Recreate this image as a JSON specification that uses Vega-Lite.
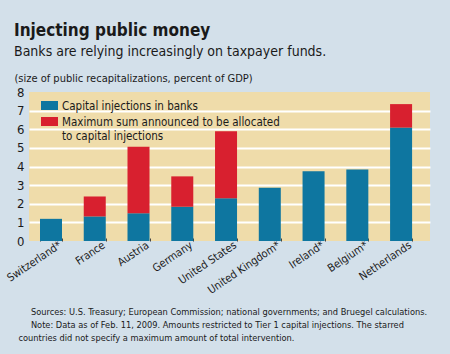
{
  "$schema": "https://vega.github.io/schema/vega-lite/v6.json",
  "width": 401,
  "height": 149,
  "autosize": {"type": "none"},
  "padding": {"left": 29, "top": 92, "right": 20, "bottom": 113},
  "background": "#d3e0ea",
  "title": {
    "text": "Injecting public money",
    "subtitle": "Banks are relying increasingly on taxpayer funds.",
    "anchor": "start",
    "frame": "group",
    "dx": -15,
    "dy": 2,
    "offset": 14,
    "font": "DejaVu Sans Condensed",
    "fontSize": 17,
    "fontWeight": "bold",
    "color": "#1a1a1a",
    "subtitleFont": "DejaVu Sans Condensed",
    "subtitleFontSize": 14,
    "subtitleColor": "#1a1a1a",
    "subtitlePadding": 5
  },
  "data": {
    "values": [
      {"country": "Switzerland*", "series": "Capital injections in banks", "value": 1.19, "order": 1},
      {"country": "France", "series": "Capital injections in banks", "value": 1.32, "order": 1},
      {"country": "France", "series": "Maximum sum announced to be allocated to capital injections", "value": 1.07, "order": 2},
      {"country": "Austria", "series": "Capital injections in banks", "value": 1.49, "order": 1},
      {"country": "Austria", "series": "Maximum sum announced to be allocated to capital injections", "value": 3.57, "order": 2},
      {"country": "Germany", "series": "Capital injections in banks", "value": 1.84, "order": 1},
      {"country": "Germany", "series": "Maximum sum announced to be allocated to capital injections", "value": 1.63, "order": 2},
      {"country": "United States", "series": "Capital injections in banks", "value": 2.30, "order": 1},
      {"country": "United States", "series": "Maximum sum announced to be allocated to capital injections", "value": 3.59, "order": 2},
      {"country": "United Kingdom*", "series": "Capital injections in banks", "value": 2.86, "order": 1},
      {"country": "Ireland*", "series": "Capital injections in banks", "value": 3.75, "order": 1},
      {"country": "Belgium*", "series": "Capital injections in banks", "value": 3.84, "order": 1},
      {"country": "Netherlands", "series": "Capital injections in banks", "value": 6.09, "order": 1},
      {"country": "Netherlands", "series": "Maximum sum announced to be allocated to capital injections", "value": 1.26, "order": 2}
    ]
  },
  "mark": {"type": "bar"},
  "encoding": {
    "x": {
      "field": "country",
      "type": "nominal",
      "sort": null,
      "scale": {"paddingInner": 0.497, "paddingOuter": 0.33, "align": 0.38},
      "axis": {
        "title": [
          "\u200b\u2002\u2002\u2002Sources: U.S. Treasury; European Commission; national governments; and Bruegel calculations.",
          "\u200b\u2002\u2002\u2002Note: Data as of Feb. 11, 2009. Amounts restricted to Tier 1 capital injections. The starred",
          "countries did not specify a maximum amount of total intervention."
        ],
        "titleX": -11,
        "titleY": 73,
        "titleAlign": "left",
        "titleAnchor": null,
        "titleBaseline": "alphabetic",
        "titleFont": "DejaVu Sans Condensed",
        "titleFontSize": 9.2,
        "titleLineHeight": 13,
        "titleFontWeight": "normal",
        "titleColor": "#1a1a1a",
        "labelAngle": -34,
        "labelAlign": "right",
        "labelBaseline": "middle",
        "labelFont": "DejaVu Sans Condensed",
        "labelFontSize": 11,
        "labelColor": "#1a1a1a",
        "labelOffset": 9,
        "labelPadding": 6,
        "domain": false,
        "grid": false,
        "tickBand": "extent",
        "tickSize": -3,
        "tickColor": "#444444",
        "tickWidth": 1
      }
    },
    "y": {
      "field": "value",
      "type": "quantitative",
      "stack": "zero",
      "scale": {"domain": [0, 8]},
      "axis": {
        "values": [0, 1, 2, 3, 4, 5, 6, 7, 8],
        "grid": true,
        "gridColor": "#ffffff",
        "gridWidth": 2,
        "gridOpacity": {"condition": {"test": "datum.value === 0 || datum.value === 8", "value": 0}, "value": 1},
        "domain": false,
        "ticks": false,
        "labelFont": "DejaVu Sans Condensed",
        "labelFontSize": 13,
        "labelColor": "#1a1a1a",
        "labelPadding": 5,
        "title": "(size of public recapitalizations, percent of GDP)",
        "titleAngle": 0,
        "titleAlign": "left",
        "titleAnchor": null,
        "titleBaseline": "alphabetic",
        "titleX": -15,
        "titleY": -11,
        "titleFont": "DejaVu Sans Condensed",
        "titleFontSize": 11,
        "titleFontWeight": "normal",
        "titleColor": "#1a1a1a"
      }
    },
    "color": {
      "field": "series",
      "type": "nominal",
      "scale": {
        "domain": ["Capital injections in banks", "Maximum sum announced to be allocated to capital injections"],
        "range": ["#0e76a0", "#d8202f"]
      },
      "legend": {
        "title": null,
        "orient": "none",
        "legendX": 12,
        "legendY": 5,
        "padding": 0,
        "symbolType": "M-1,-0.53H1V0.53H-1Z",
        "symbolSize": 289,
        "symbolStrokeWidth": 0,
        "symbolOpacity": 1,
        "labelFont": "DejaVu Sans Condensed",
        "labelFontSize": 11.5,
        "labelColor": "#1a1a1a",
        "labelOffset": 4,
        "labelLimit": 400,
        "labelBaseline": "top",
        "rowPadding": 1,
        "labelExpr": "datum.label == 'Capital injections in banks' ? datum.label : ['Maximum sum announced to be allocated', 'to capital injections']",
        "encode": {
          "labels": {"update": {"dy": {"value": -5}, "lineHeight": {"value": 14}}}
        }
      }
    },
    "order": {"field": "order", "type": "quantitative"}
  },
  "config": {
    "view": {"fill": "#efdcaa", "stroke": null},
    "font": "DejaVu Sans Condensed"
  }
}
